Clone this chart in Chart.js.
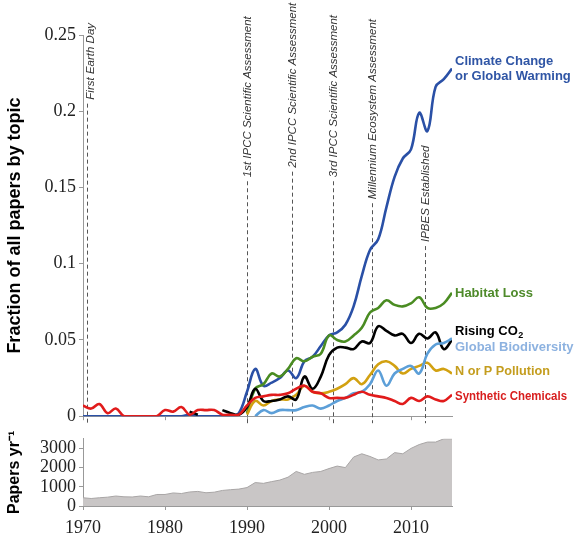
<!DOCTYPE html>
<html><head><meta charset="utf-8">
<script src="https://cdn.jsdelivr.net/npm/chart.js@4.4.0/dist/chart.umd.min.js"></script>
<style>
html,body{margin:0;padding:0;background:#fff;}
#wrap{position:relative;width:580px;height:537px;overflow:hidden;}
#c1{position:absolute;left:0;top:0;}
#c2{position:absolute;left:0;top:425px;}
</style></head><body>
<div id="wrap"><canvas id="c1" width="580" height="430"></canvas><canvas id="c2" width="580" height="112"></canvas></div>
<script>
const years = [1970,1971,1972,1973,1974,1975,1976,1977,1978,1979,1980,1981,1982,1983,1984,1985,1986,1987,1988,1989,1990,1991,1992,1993,1994,1995,1996,1997,1998,1999,2000,2001,2002,2003,2004,2005,2006,2007,2008,2009,2010,2011,2012,2013,2014,2015];

const climateChange = [0,0,0,0,0,0,0,0,0,0, 0,0,0,0.001,0,0,0,0,0,0.002, 0.016,0.031,0.020,0.022,0.025,0.030,0.025,0.036,0.039,0.046, 0.053,0.055,0.060,0.072,0.092,0.109,0.116,0.137,0.157,0.169, 0.175,0.199,0.187,0.216,0.221,0.228];
const habitatLoss = [null,null,null,null,null,null,null,null,null,null, null,null,null,null,null,null,null,null,null,null, 0.002,0.018,0.021,0.028,0.026,0.031,0.038,0.036,0.039,0.041, 0.053,0.050,0.049,0.053,0.058,0.068,0.071,0.076,0.073,0.072, 0.074,0.078,0.071,0.071,0.074,0.081];
const risingCO2 = [null,null,null,null,null,null,null,null,null,null, null,null,null,0.003,0.001,null,null,0.004,0.002,0.001, 0.006,0.018,0.010,0.010,0.011,0.013,0.011,0.026,0.018,0.026, 0.040,0.045,0.045,0.044,0.049,0.048,0.059,0.056,0.053,0.054, 0.048,0.054,0.051,0.055,0.044,0.050];
const globalBiodiversity = [null,null,null,null,null,null,null,null,null,null, null,null,null,null,null,null,null,null,null,null, null,0.000,0.004,0.002,0.004,0.004,0.004,0.006,0.007,0.005, 0.007,0.010,0.012,0.015,0.016,0.021,0.030,0.020,0.028,0.031, 0.033,0.028,0.041,0.047,0.048,0.051];
const nutrientPollution = [null,null,null,null,null,null,null,null,null,null, null,null,null,null,null,null,null,null,null,null, 0.001,0.010,0.007,0.010,0.011,0.011,0.014,0.020,0.016,0.015, 0.016,0.018,0.021,0.025,0.021,0.027,0.034,0.036,0.033,0.028, 0.031,0.033,0.035,0.030,0.031,0.028];
const syntheticChemicals = [0.007,0.005,0.008,0.002,0.005,0,0,0,0,0, 0.004,0.003,0.006,0.001,0.004,0.004,0.004,0.001,0.001,0.001, 0.007,0.012,0.013,0.014,0.014,0.015,0.018,0.020,0.016,0.015, 0.012,0.012,0.012,0.014,0.016,0.014,0.013,0.012,0.010,0.008, 0.012,0.010,0.013,0.011,0.010,0.014];
const papersPerYear = [430,390,430,460,520,480,470,520,480,600, 600,680,650,730,760,690,720,810,850,880, 960,1220,1180,1270,1350,1500,1800,1650,1750,1800, 1950,2080,2000,2550,2720,2580,2400,2450,2780,2720, 3000,3200,3330,3330,3500,3500];

const fractionTicks = [0,0.05,0.1,0.15,0.2,0.25];
const fractionTickLabels = ['0','0.05','0.1','0.15','0.2','0.25'];
const papersTicks = [0,1000,2000,3000];
const papersTickLabels = ['0','1000','2000','3000'];
const yearTicks = [1970,1980,1990,2000,2010];
const yearTickLabels = ['1970','1980','1990','2000','2010'];

const eventYears = [1970.5,1990.0,1995.5,2000.5,2005.25,2011.7];
const eventLabels = ['First Earth Day','1st IPCC Scientific Assessment','2nd IPCC Scientific Assessment','3rd IPCC Scientific Assessment','Millennium Ecosystem Assessment','IPBES Established'];

const SERIF = "'Liberation Serif','Times New Roman',serif";
const SANS = "'Liberation Sans',Arial,sans-serif";

const pts = arr => years.map((y,i)=>({x:y,y:arr[i]}));

const eventsPlugin = {
  id:'events',
  beforeDatasetsDraw(chart){
    const ctx = chart.ctx, xs = chart.scales.x, ys = chart.scales.y;
    const bottoms = [0.2076,0.1567,0.1630,0.1567,0.1423,0.1142];
    const dx = [4,1,1,1,1,1];
    ctx.save();
    eventYears.forEach((yr,i)=>{
      const x = Math.round(xs.getPixelForValue(yr))+0.5;
      const yb = ys.getPixelForValue(bottoms[i]);
      ctx.strokeStyle = '#555';
      ctx.lineWidth = 1;
      ctx.setLineDash([4,3]);
      ctx.beginPath();
      ctx.moveTo(x, yb+4);
      ctx.lineTo(x, chart.chartArea.bottom+7);
      ctx.stroke();
      ctx.setLineDash([]);
      ctx.save();
      ctx.translate(x+dx[i]-1, yb);
      ctx.rotate(-Math.PI/2);
      ctx.font = "italic 11.5px "+SANS;
      ctx.fillStyle = '#333';
      ctx.textAlign = 'left';
      ctx.textBaseline = 'middle';
      ctx.fillText(eventLabels[i], 0, 0);
      ctx.restore();
    });
    ctx.restore();
  }
};

const labelsPlugin = {
  id:'seriesLabels',
  afterDraw(chart){
    const ctx = chart.ctx, ys = chart.scales.y;
    const x = chart.chartArea.right + 3;
    const items = [
      {t:'Climate Change', v:0.2324, c:'#2f55a5'},
      {t:'or Global Warming', v:0.2226, c:'#2f55a5'},
      {t:'Habitat Loss', v:0.0803, c:'#4e8a2a'},
      {t:'Global Biodiversity', v:0.0450, c:'#8db2e0'},
      {t:'N or P Pollution', v:0.0294, c:'#c49d1e', mw:95},
      {t:'Synthetic Chemicals', v:0.0131, c:'#d81e1e', mw:112}
    ];
    ctx.save();
    ctx.font = "bold 13px "+SANS;
    ctx.textAlign = 'left';
    ctx.textBaseline = 'middle';
    items.forEach(it=>{
      ctx.fillStyle = it.c;
      if (it.mw) ctx.fillText(it.t, x, ys.getPixelForValue(it.v), it.mw);
      else ctx.fillText(it.t, x, ys.getPixelForValue(it.v));
    });
    const yc = ys.getPixelForValue(0.0555);
    ctx.fillStyle = '#000';
    ctx.fillText('Rising CO', x, yc);
    const w = ctx.measureText('Rising CO').width;
    ctx.font = "bold 9px "+SANS;
    ctx.fillText('2', x+w+0.5, yc+4);
    ctx.restore();
  }
};

const line = (data,color)=>({data:pts(data),borderColor:color,borderWidth:2.6,pointRadius:0,tension:0.4,fill:false,spanGaps:false});

new Chart(document.getElementById('c1'),{
  type:'line',
  data:{datasets:[
    line(syntheticChemicals,'#e11b1b'),
    line(globalBiodiversity,'#5c9fd8'),
    line(risingCO2,'#000000'),
    line(nutrientPollution,'#d2a111'),
    line(habitatLoss,'#4a8c22'),
    line(climateChange,'#2a50a6')
  ]},
  options:{
    responsive:false, animation:false, devicePixelRatio:1,
    layout:{padding:{left:0,right:128,top:35,bottom:0}},
    plugins:{legend:{display:false},tooltip:{enabled:false}},
    scales:{
      x:{type:'linear',min:1970,max:2015,
        afterBuildTicks:s=>{s.ticks=yearTicks.map(v=>({value:v}));},
        ticks:{display:false,autoSkip:false},
        grid:{display:true,drawOnChartArea:false,drawTicks:true,tickLength:4,color:'#999'},
        border:{display:true,color:'#999',width:1},
        afterFit:s=>{s.height=12;}},
      y:{type:'linear',min:0,max:0.25,
        afterBuildTicks:s=>{s.ticks=fractionTicks.map(v=>({value:v}));},
        ticks:{callback:(v,i)=>fractionTickLabels[i],font:{family:SERIF,size:18},color:'#222',padding:3,autoSkip:false},
        grid:{display:true,drawOnChartArea:false,drawTicks:true,tickLength:4,color:'#999'},
        border:{display:true,color:'#999',width:1},
        title:{display:true,text:'Fraction of all papers by topic',font:{family:SANS,size:18,weight:'bold'},color:'#000',padding:{top:4,bottom:0}},
        afterFit:s=>{s.width=83;}}
    }
  },
  plugins:[eventsPlugin,labelsPlugin]
});

new Chart(document.getElementById('c2'),{
  type:'line',
  data:{datasets:[{data:pts(papersPerYear),borderColor:'#a9a6a6',borderWidth:1,backgroundColor:'#c9c6c6',fill:'origin',pointRadius:0,tension:0}]},
  options:{
    responsive:false, animation:false, devicePixelRatio:1,
    layout:{padding:{left:0,right:128,top:4,bottom:0}},
    plugins:{legend:{display:false},tooltip:{enabled:false}},
    scales:{
      x:{type:'linear',min:1970,max:2015,
        afterBuildTicks:s=>{s.ticks=yearTicks.map(v=>({value:v}));},
        ticks:{callback:(v,i)=>yearTickLabels[i],font:{family:SERIF,size:18},color:'#222',padding:7,maxRotation:0,autoSkip:false},
        grid:{display:true,drawOnChartArea:false,drawTicks:true,tickLength:4,color:'#999'},
        border:{display:true,color:'#999',width:1},
        afterFit:s=>{s.height=31;}},
      y:{type:'linear',min:0,max:3500,
        afterBuildTicks:s=>{s.ticks=papersTicks.map(v=>({value:v}));},
        ticks:{callback:(v,i)=>papersTickLabels[i],font:{family:SERIF,size:18},color:'#222',padding:3,autoSkip:false},
        grid:{display:true,drawOnChartArea:false,drawTicks:true,tickLength:4,color:'#999'},
        border:{display:true,color:'#999',width:1},
        title:{display:true,text:'Papers yr\u207B\u00B9',font:{family:SANS,size:16,weight:'bold'},color:'#000',padding:{top:5,bottom:0}},
        afterFit:s=>{s.width=83;}}
    }
  }
});
</script>
</body></html>
